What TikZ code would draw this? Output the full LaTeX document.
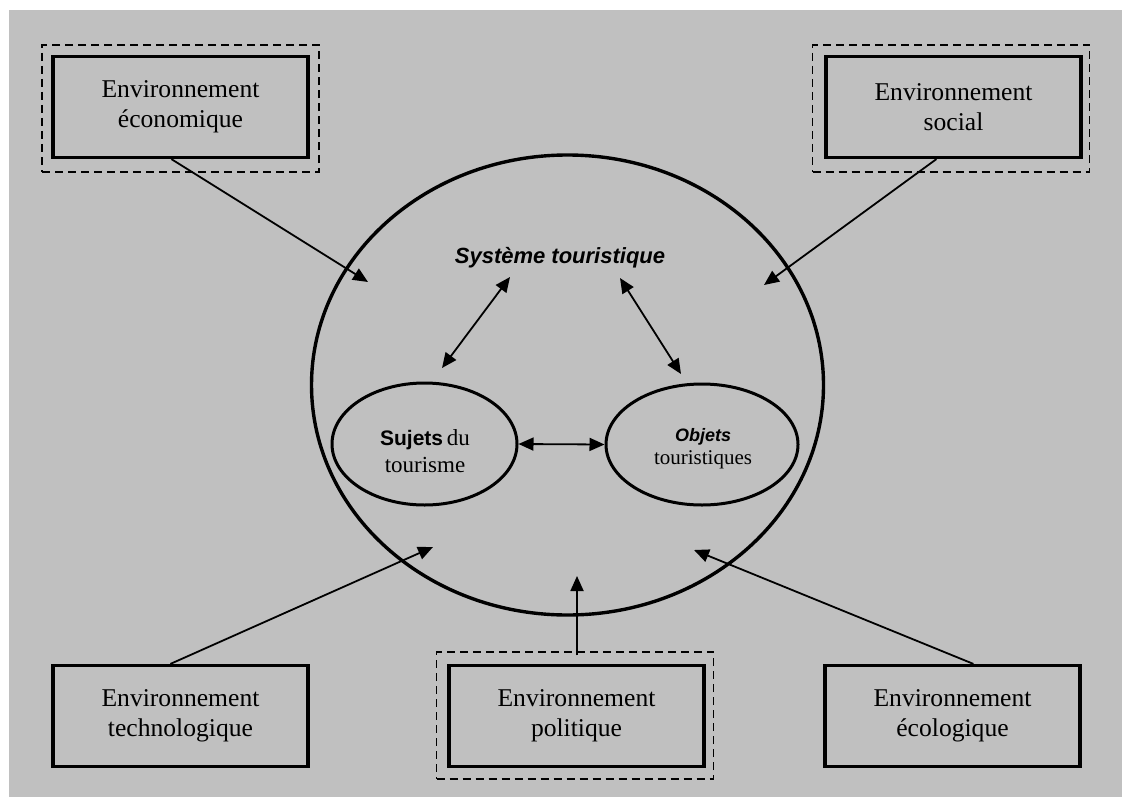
\documentclass[tikz,border=0pt]{standalone}
\usepackage{fontspec}
\setmainfont{Liberation Serif}
\newfontfamily\helv{Liberation Sans}
\usetikzlibrary{arrows.meta,shapes.geometric,calc}
\definecolor{bggray}{RGB}{192,192,192}
\begin{document}
\begin{tikzpicture}[x=0.5pt,y=-0.5pt,
  envbox/.style={draw, line width=1.6pt, minimum width=127.5pt, minimum height=50.5pt,
    align=center, font=\fontsize{12.8}{15}\selectfont, inner sep=0pt},
  frame/.style={draw, line width=0.65pt, dash pattern=on 4pt off 2.5pt,
    minimum width=138.5pt, minimum height=63.5pt, inner sep=0pt},
  smallell/.style={draw, ellipse, line width=1.5pt, inner sep=0pt},
  arr/.style={line width=0.9pt, -{Triangle[length=7.5pt,width=6.5pt]}},
  darr/.style={line width=0.9pt, {Triangle[length=7.5pt,width=6.5pt]}-{Triangle[length=7.5pt,width=6.5pt]}}]
\fill[white] (0,0) rectangle (1122,797);
\fill[bggray] (9,10) rectangle (1122,797);
\useasboundingbox (0,0) rectangle (1122,797);

% dashed frames
\node[frame] (econF) at (180.5,108.5) {};
\node[frame] (socF) at (951,108.5) {};
\node[frame] (polF) at (575,715.5) {};

% environment boxes
\node[envbox] (econ) at (180.5,107) {Environnement\\économique};
\node[envbox] (soc) at (953.5,107) {Environnement\\social};
\node[envbox] (tech) at (180.5,716) {Environnement\\technologique};
\node[envbox] (pol) at (576.5,716) {Environnement\\politique};
\node[envbox] (eco) at (952.5,716) {Environnement\\écologique};

% tourism system
\node[draw, ellipse, line width=1.7pt, minimum width=256pt, minimum height=230pt, inner sep=0pt] (sys) at (567.5,385) {};
\node[font=\helv\bfseries\itshape\fontsize{11}{13}\selectfont, inner sep=0pt] (systxt) at (560,258) {Système touristique};

\node[smallell, minimum width=92.5pt, minimum height=61pt] (suj) at (424.5,444) {};
\node[align=center, inner sep=0pt, font=\fontsize{11.5}{13.5}\selectfont] (sujtxt) at (425,451)
  {{\helv\bfseries\fontsize{10.5}{13.5}\selectfont Sujets}\,du\\tourisme};

\node[smallell, minimum width=96pt, minimum height=60.5pt] (obj) at (702,444.5) {};
\node[align=center, inner sep=0pt, font=\fontsize{10.5}{11.5}\selectfont] (objtxt) at (703,449)
  {{\helv\bfseries\itshape\fontsize{9}{11.5}\selectfont Objets}\\touristiques};

% arrow ends
\coordinate (econT) at (368,282);
\coordinate (socT) at (764,285);
\coordinate (techT) at (433,547);
\coordinate (ecoT) at (694,550);
\coordinate (polT) at (577,576);
\coordinate (sysA) at (510,277);
\coordinate (sujA) at (442,368);
\coordinate (sysB) at (620,278);
\coordinate (objB) at (681,374);

% influences
\draw[arr] ($(econ.south west)+(120,0)$) -- (econT);
\draw[arr] ($(soc.south west)+(112,0)$) -- (socT);
\draw[arr] ($(tech.north west)+(119,0)$) -- (techT);
\draw[arr] ($(eco.north west)+(150,0)$) -- (ecoT);
\draw[arr] ($(polF.north)+(2,4)$) -- (polT);

% internal relations
\draw[darr] (sysA) -- (sujA);
\draw[darr] (sysB) -- (objB);
\draw[darr] (suj.east) -- (obj.west);
\end{tikzpicture}
\end{document}
